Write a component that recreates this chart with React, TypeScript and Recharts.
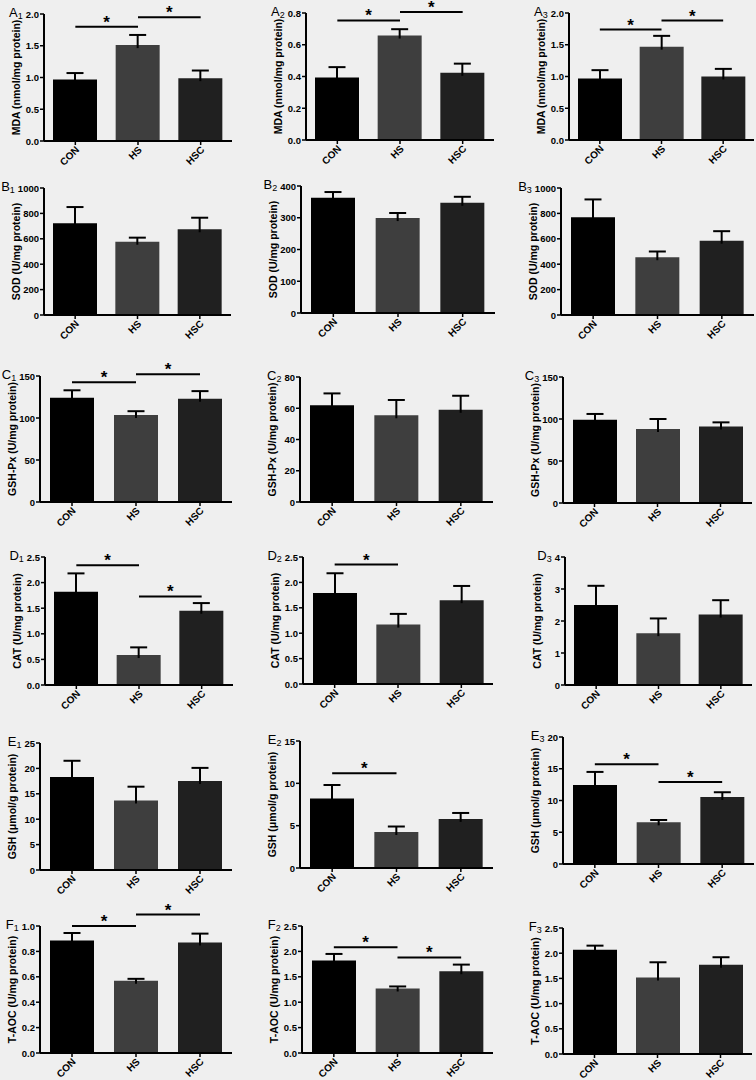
import React from 'react';
import { BarChart, Bar, XAxis, YAxis, Cell, ReferenceLine } from 'recharts';

const categories = ['CON', 'HS', 'HSC'];
const barColors = ['#000000', '#3e3e3e', '#202020'];

// Means and SEMs
const a1Mean = [0.97, 1.51, 0.99]; const a1Sem = [0.1, 0.16, 0.12];
const a2Mean = [0.393, 0.658, 0.423]; const a2Sem = [0.066, 0.04, 0.058];
const a3Mean = [0.97, 1.47, 1.0]; const a3Sem = [0.13, 0.17, 0.12];
const b1Mean = [722, 577, 675]; const b1Sem = [128, 32, 91];
const b2Mean = [363, 299, 347]; const b2Sem = [18, 16, 19];
const b3Mean = [770, 455, 585]; const b3Sem = [140, 45, 75];
const c1Mean = [124, 103.6, 123]; const c1Sem = [9, 4.5, 9];
const c2Mean = [62, 55.5, 59]; const c2Sem = [7.5, 9.8, 9];
const c3Mean = [99, 88, 91]; const c3Sem = [7, 12, 5];
const d1Mean = [1.82, 0.585, 1.45]; const d1Sem = [0.36, 0.15, 0.15];
const d2Mean = [1.79, 1.17, 1.65]; const d2Sem = [0.39, 0.21, 0.28];
const d3Mean = [2.5, 1.62, 2.2]; const d3Sem = [0.6, 0.46, 0.45];
const e1Mean = [18.3, 13.7, 17.5]; const e1Sem = [3.2, 2.7, 2.6];
const e2Mean = [8.2, 4.25, 5.8]; const e2Sem = [1.6, 0.65, 0.7];
const e3Mean = [12.44, 6.56, 10.55]; const e3Sem = [2.06, 0.37, 0.75];
const f1Mean = [0.885, 0.568, 0.87]; const f1Sem = [0.06, 0.016, 0.07];
const f2Mean = [1.82, 1.27, 1.61]; const f2Sem = [0.13, 0.04, 0.13];
const f3Mean = [2.07, 1.52, 1.77]; const f3Sem = [0.08, 0.3, 0.15];

// Y tick values
const ticksMda2 = [0, 0.5, 1.0, 1.5, 2.0];
const ticksMda08 = [0, 0.2, 0.4, 0.6, 0.8];
const ticksSod1000 = [0, 200, 400, 600, 800, 1000];
const ticksSod400 = [0, 100, 200, 300, 400];
const ticksGpx150 = [0, 50, 100, 150];
const ticksGpx80 = [0, 20, 40, 60, 80];
const ticksCat25 = [0, 0.5, 1.0, 1.5, 2.0, 2.5];
const ticksCat4 = [0, 1, 2, 3, 4];
const ticksGsh25 = [0, 5, 10, 15, 20, 25];
const ticksGsh15 = [0, 5, 10, 15];
const ticksGsh20 = [0, 5, 10, 15, 20];
const ticksAoc1 = [0, 0.2, 0.4, 0.6, 0.8, 1.0];
const ticksAoc25 = [0, 0.5, 1.0, 1.5, 2.0, 2.5];

// Significance brackets: [from, to, level]
const a1Sig: [string, string, number][] = [['CON', 'HS', 1.8], ['HS', 'HSC', 1.95]];
const a2Sig: [string, string, number][] = [['CON', 'HS', 0.753], ['HS', 'HSC', 0.806]];
const a3Sig: [string, string, number][] = [['CON', 'HS', 1.74], ['HS', 'HSC', 1.88]];
const c1Sig: [string, string, number][] = [['CON', 'HS', 142.5], ['HS', 'HSC', 152]];
const d1Sig: [string, string, number][] = [['CON', 'HS', 2.34], ['HS', 'HSC', 1.73]];
const d2Sig: [string, string, number][] = [['CON', 'HS', 2.35]];
const e2Sig: [string, string, number][] = [['CON', 'HS', 11.2]];
const e3Sig: [string, string, number][] = [['CON', 'HS', 15.7], ['HS', 'HSC', 12.9]];
const f1Sig: [string, string, number][] = [['CON', 'HS', 1.0], ['HS', 'HSC', 1.09]];
const f2Sig: [string, string, number][] = [['CON', 'HS', 2.08], ['HS', 'HSC', 1.88]];

const labelMda = 'MDA (nmol/mg protein)';
const labelSod = 'SOD (U/mg protein)';
const labelGpx = 'GSH-Px (U/mg protein)';
const labelCat = 'CAT (U/mg protein)';
const labelGsh = 'GSH (μmol/g protein)';
const labelAoc = 'T-AOC (U/mg protein)';

// Layout: plot box in page px [axisX, rightX, topY, baseY]
const panels = [
  { letter: 'A', num: '1', mean: a1Mean, sem: a1Sem, ticks: ticksMda2, dec: 1, label: labelMda, sig: a1Sig, box: [44, 232, 14, 141] },
  { letter: 'A', num: '2', mean: a2Mean, sem: a2Sem, ticks: ticksMda08, dec: 1, label: labelMda, sig: a2Sig, box: [306, 494, 13, 140] },
  { letter: 'A', num: '3', mean: a3Mean, sem: a3Sem, ticks: ticksMda2, dec: 1, label: labelMda, sig: a3Sig, box: [569, 754, 13, 140] },
  { letter: 'B', num: '1', mean: b1Mean, sem: b1Sem, ticks: ticksSod1000, dec: 0, label: labelSod, sig: [], box: [44, 231, 188, 315] },
  { letter: 'B', num: '2', mean: b2Mean, sem: b2Sem, ticks: ticksSod400, dec: 0, label: labelSod, sig: [], box: [301, 495, 186, 313] },
  { letter: 'B', num: '3', mean: b3Mean, sem: b3Sem, ticks: ticksSod1000, dec: 0, label: labelSod, sig: [], box: [561, 754, 188, 315] },
  { letter: 'C', num: '1', mean: c1Mean, sem: c1Sem, ticks: ticksGpx150, dec: 0, label: labelGpx, sig: c1Sig, box: [40, 232, 376, 502] },
  { letter: 'C', num: '2', mean: c2Mean, sem: c2Sem, ticks: ticksGpx80, dec: 0, label: labelGpx, sig: [], box: [300, 493, 377, 502] },
  { letter: 'C', num: '3', mean: c3Mean, sem: c3Sem, ticks: ticksGpx150, dec: 0, label: labelGpx, sig: [], box: [563, 752, 377, 503] },
  { letter: 'D', num: '1', mean: d1Mean, sem: d1Sem, ticks: ticksCat25, dec: 1, label: labelCat, sig: d1Sig, box: [45, 233, 557, 685] },
  { letter: 'D', num: '2', mean: d2Mean, sem: d2Sem, ticks: ticksCat25, dec: 1, label: labelCat, sig: d2Sig, box: [303, 493, 557, 684] },
  { letter: 'D', num: '3', mean: d3Mean, sem: d3Sem, ticks: ticksCat4, dec: 0, label: labelCat, sig: [], box: [565, 752, 557, 685] },
  { letter: 'E', num: '1', mean: e1Mean, sem: e1Sem, ticks: ticksGsh25, dec: 0, label: labelGsh, sig: [], box: [40, 232, 743, 870] },
  { letter: 'E', num: '2', mean: e2Mean, sem: e2Sem, ticks: ticksGsh15, dec: 0, label: labelGsh, sig: e2Sig, box: [300, 493, 741, 868] },
  { letter: 'E', num: '3', mean: e3Mean, sem: e3Sem, ticks: ticksGsh20, dec: 0, label: labelGsh, sig: e3Sig, box: [563, 754, 737, 864] },
  { letter: 'F', num: '1', mean: f1Mean, sem: f1Sem, ticks: ticksAoc1, dec: 1, label: labelAoc, sig: f1Sig, box: [40, 232, 926, 1053] },
  { letter: 'F', num: '2', mean: f2Mean, sem: f2Sem, ticks: ticksAoc25, dec: 1, label: labelAoc, sig: f2Sig, box: [302, 493, 926, 1053] },
  { letter: 'F', num: '3', mean: f3Mean, sem: f3Sem, ticks: ticksAoc25, dec: 1, label: labelAoc, sig: [], box: [563, 752, 928, 1054] },
];

const FONT = '"Liberation Sans", Arial, Helvetica, sans-serif';
const YW = 64;
const MT = 36;
const MR = 4;
const XH = 44;

const ErrShape = (props: any) => {
  const { x, y, width, height } = props;
  if (x == null || y == null) return null;
  const cx = x + width / 2;
  return (
    <g>
      <line x1={cx} x2={cx} y1={y + height + 3} y2={y} stroke="#000" strokeWidth={2} />
      <line x1={cx - 8.5} x2={cx + 8.5} y1={y} y2={y} stroke="#000" strokeWidth={2} />
    </g>
  );
};

const XTick = (props: any) => {
  const { x, y, payload } = props;
  const px = x + 2;
  const py = y + 1;
  return (
    <text
      x={px}
      y={py}
      transform={`rotate(-45 ${px} ${py})`}
      textAnchor="end"
      dominantBaseline="central"
      fontFamily={FONT}
      fontSize={10}
      fontWeight={700}
      fill="#000"
    >
      {payload.value}
    </text>
  );
};

function Panel({ p }: { p: any }) {
  const [L, R, T, B] = p.box;
  const plotW = R - L;
  const plotH = B - T;
  const width = YW + plotW + MR;
  const height = MT + plotH + XH;
  const max = p.ticks[p.ticks.length - 1];
  const data = categories.map((c, i) => ({ name: c, mean: p.mean[i], sem: p.sem[i] }));

  const YTick = (tp: any) => {
    const { x, y, payload } = tp;
    const v = payload.value;
    const txt = Number(v).toFixed(p.dec);
    const isTop = Math.abs(v - max) < 1e-9;
    return (
      <text x={x} y={y} textAnchor="end" dominantBaseline="central" fontFamily={FONT} fontSize={9.5} fontWeight={700} fill="#000">
        {isTop ? (
          <>
            <tspan fontWeight={400} fontSize={13} dy={-2}>{p.letter}</tspan>
            <tspan fontWeight={400} fontSize={9} dy={4}>{p.num}</tspan>
            <tspan dx={3} dy={-2}>{txt}</tspan>
          </>
        ) : (
          txt
        )}
      </text>
    );
  };

  const yLabel = () => {
    const cx = YW - 28;
    const cy = MT + plotH / 2;
    return (
      <text
        x={cx}
        y={cy}
        transform={`rotate(-90 ${cx} ${cy})`}
        textAnchor="middle"
        dominantBaseline="central"
        fontFamily={FONT}
        fontSize={10.5}
        fontWeight={700}
        fill="#000"
      >
        {p.label}
      </text>
    );
  };

  return (
    <div style={{ position: 'absolute', left: L - YW, top: T - MT, width, height }}>
      <BarChart width={width} height={height} data={data} margin={{ top: MT, right: MR, left: 0, bottom: 0 }} barSize={44}>
        <XAxis
          dataKey="name"
          height={XH}
          interval={0}
          axisLine={{ stroke: '#000', strokeWidth: 2 }}
          tickLine={{ stroke: '#000', strokeWidth: 1.5 }}
          tickSize={4}
          tickMargin={2}
          tick={(tp: any) => <XTick {...tp} />}
        />
        <YAxis
          width={YW}
          domain={[0, max]}
          ticks={p.ticks}
          interval={0}
          allowDataOverflow
          axisLine={{ stroke: '#000', strokeWidth: 2 }}
          tickLine={{ stroke: '#000', strokeWidth: 1.5 }}
          tickSize={4}
          tickMargin={1}
          tick={(tp: any) => <YTick {...tp} />}
          label={{ content: yLabel }}
        />
        <Bar dataKey="mean" stackId="s" isAnimationActive={false}>
          {data.map((d, i) => (
            <Cell key={d.name} fill={barColors[i]} />
          ))}
        </Bar>
        <Bar dataKey="sem" stackId="s" isAnimationActive={false} shape={ErrShape} fill="none" />
        {p.sig.map((s: [string, string, number], i: number) => (
          <ReferenceLine
            key={i}
            segment={[{ x: s[0], y: s[2] }, { x: s[1], y: s[2] }]}
            stroke="#000"
            strokeWidth={2}
            ifOverflow="visible"
            label={{ value: '*', position: 'top', offset: -1, fontSize: 17, fontWeight: 700, fill: '#000', fontFamily: FONT }}
          />
        ))}
      </BarChart>
    </div>
  );
}

export default function App() {
  return (
    <div style={{ position: 'absolute', left: 0, top: 0, width: 756, height: 1080, background: '#efefef', overflow: 'hidden' }}>
      {panels.map((p, i) => (
        <Panel key={i} p={p} />
      ))}
    </div>
  );
}
